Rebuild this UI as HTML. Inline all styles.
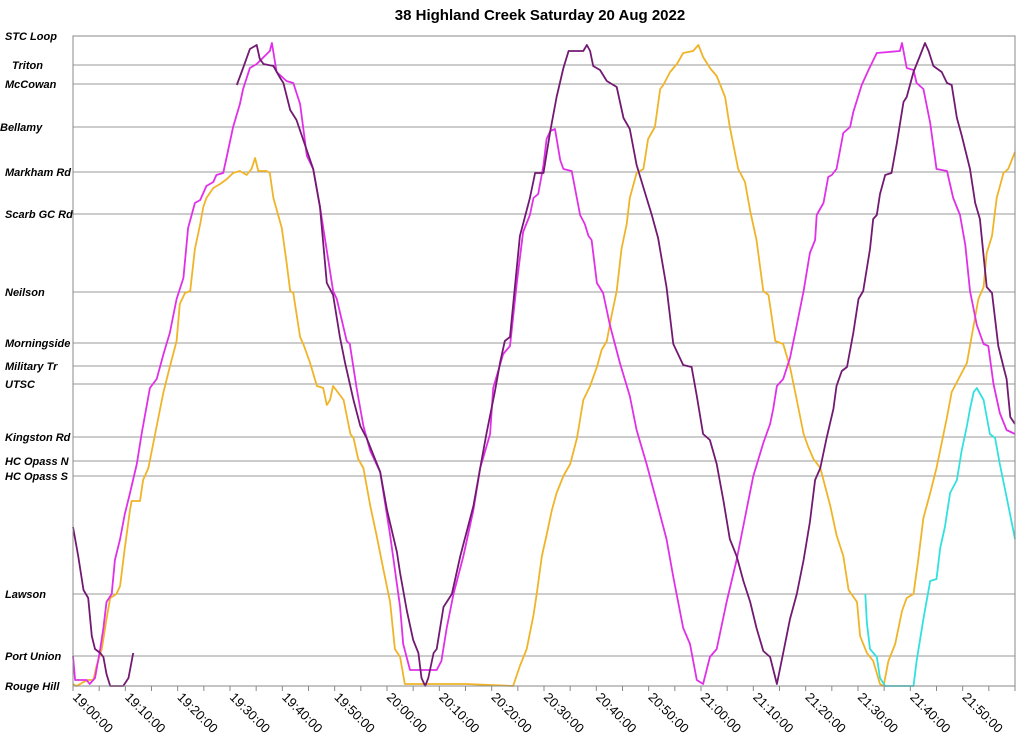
<!DOCTYPE html>
<html><head><meta charset="utf-8"><style>
body{margin:0;background:#fff;}
svg{display:block;font-family:"Liberation Sans",Arial,sans-serif;}
</style></head><body>
<svg id="chart" width="1024" height="750">
<text x="540" y="20" text-anchor="middle" font-size="15" font-weight="bold">38 Highland Creek Saturday 20 Aug 2022</text>
<g id="grid"></g><g id="xaxis"></g><g id="series"></g>
<rect x="73" y="36" width="942" height="650" fill="none" stroke="#888" stroke-width="1"/>
</svg>
<script>
const stations=["STC Loop","Triton","McCowan","Bellamy","Markham Rd","Scarb GC Rd","Neilson","Morningside","Military Tr","UTSC","Kingston Rd","HC Opass N","HC Opass S","Lawson","Port Union","Rouge Hill"];
const stationDist=[650,621,602,559,514,472,394,343,320,302,249,225,210,92,30,0];
const stationLabelX=[5,12,5,0,5,5,5,5,5,5,5,5,5,5,5,5];
const tickLabels=["19:00:00","19:10:00","19:20:00","19:30:00","19:40:00","19:50:00","20:00:00","20:10:00","20:20:00","20:30:00","20:40:00","20:50:00","21:00:00","21:10:00","21:20:00","21:30:00","21:40:00","21:50:00"];
const purpleAT=[0,1,2,2.9,3.6,4.2,5.2,5.8,6.4,7.1,9.6,10.6,11.5];
const purpleAD=[159,130,96,88,50,37,33,29,12,0,0,8,33];
const purpleBT=[31.3,32.5,33.8,35.1,35.7,36.4,38.3,39.6,40.2,41.5,42.7,45.9,47.2,48.5,49.7,51.0,52.0,53.6,54.9,56.1,58.7,60.0,61.9,62.5,63.8,65.0,66.0,66.6,67.3,67.9,68.9,69.5,70.8,72.4,74.0,76.5,77.8,79.0,80.6,81.6,82.5,83.5,85.4,87.3,88.3,89.9,91.2,92.4,93.7,94.7,97.5,98.2,98.8,99.4,100.7,102.0,103.9,105.2,106.4,107.7,109.6,110.6,111.8,113.4,114.7,116.6,118.2,119.2,120.4,121.7,123.0,124.3,125.5,126.8,128.1,129.4,130.6,131.9,133.2,134.5,135.7,137.0,138.3,139.6,140.8,141.8,142.8,144.0,145.3,145.9,146.9,147.9,149.1,150.1,151.0,152.3,152.9,153.6,154.2,155.2,156.4,157.4,158.7,159.3,160.6,161.9,162.8,163.5,164.4,166.0,167.0,167.9,168.9,169.8,171.4,172.4,173.3,174.6,175.6,176.8,177.8,178.4,179.1,180];
const purpleBD=[601,618,637,641,627,622,620,608,603,576,566,517,479,403,391,349,323,286,260,248,214,176,134,113,75,46,33,8,0,8,33,37,79,92,130,180,218,252,294,323,345,349,450,488,513,513,555,589,618,635,635,641,635,620,616,605,599,568,557,521,488,471,448,399,342,321,319,290,252,246,222,185,147,130,105,84,58,35,29,2,33,67,92,126,164,206,218,248,277,300,315,319,353,387,395,437,467,471,492,511,513,542,584,589,614,631,643,635,620,614,603,601,568,551,517,483,467,399,393,340,319,307,269,262];
const magentaT=[0,0.4,2.6,3.2,4.2,5.2,5.8,6.4,7.4,8.0,9.0,9.9,10.9,12.2,13.1,14.7,16.0,17.3,18.5,19.8,21.1,22.0,23.3,24.3,25.5,26.8,27.4,28.7,29.4,30.6,31.9,32.5,33.8,35.1,37.6,38.0,38.9,40.8,42.1,43.4,44.7,45.9,47.2,49.7,50.4,52.3,52.9,54.2,55.5,56.8,58.7,60.6,62.5,63.1,64.4,67.6,69.5,70.4,71.4,72.7,74.6,76.5,77.8,79.7,80.3,82.2,83.5,84.8,86.0,87.3,88.0,88.9,89.9,90.5,91.2,92.1,93.1,93.7,95.3,96.9,97.8,98.5,99.1,100.1,101.3,102.6,104.5,106.4,107.7,109.6,111.5,113.4,114.7,116.6,117.9,119.2,120.4,121.7,123.0,124.9,126.8,128.7,130.0,131.9,133.2,133.8,134.5,135.7,137.0,138.3,139.6,140.8,141.8,142.1,143.4,144.3,145.0,145.9,147.2,148.5,149.1,150.7,152.0,153.6,158.0,158.4,159.3,160.6,161.2,162.5,163.8,165.0,167.0,168.2,169.5,170.5,171.4,172.7,174.0,174.9,175.9,177.1,178.4,180];
const magentaD=[30,6,6,2,8,37,58,84,92,126,147,172,193,222,252,298,307,332,353,387,408,458,483,486,500,504,511,513,530,559,582,597,618,622,635,643,614,605,603,582,530,517,479,395,387,345,342,298,260,235,214,151,79,42,16,16,16,25,58,92,130,176,218,252,298,332,340,403,454,471,488,492,521,547,555,557,526,517,515,471,462,450,446,403,393,361,323,290,256,222,185,147,109,58,42,6,2,29,37,84,126,176,210,243,262,277,300,307,328,361,395,433,446,471,483,509,511,517,553,559,574,601,616,633,635,643,618,616,603,597,563,517,515,488,471,441,395,361,342,340,302,273,256,252];
const orangeT=[0,0.7,2.0,2.9,3.9,4.5,5.5,6.4,7.1,8.3,9.0,9.9,10.9,11.2,12.8,13.4,14.4,16.0,17.3,18.5,19.8,20.4,21.4,22.4,23.3,24.3,24.9,25.5,26.8,28.1,29.4,30.6,31.9,33.2,34.1,34.8,35.4,37.0,37.6,38.3,39.9,40.8,41.5,42.1,43.4,44.0,45.3,46.6,47.8,48.5,49.1,49.7,51.7,53.0,53.6,54.5,55.5,56.8,58.0,59.3,60.6,61.5,62.5,63.4,68.9,75.2,84.1,85.4,86.7,88.0,88.6,89.6,90.5,91.5,92.4,93.7,95.0,96.3,97.5,98.8,100.1,101.0,102.0,102.9,103.9,104.8,105.8,106.4,107.7,109.0,109.9,111.2,112.2,112.8,114.1,115.4,116.6,118.5,119.5,120.4,121.7,123.0,124.6,125.5,127.1,128.4,129.4,130.6,131.9,132.9,134.2,135.7,137.0,138.3,139.6,140.5,141.5,142.8,144.7,145.9,147.2,148.2,149.8,150.4,151.7,152.9,154.2,154.9,155.8,157.1,158.4,159.3,160.6,161.5,162.5,163.8,165.0,166.0,167.0,167.9,169.2,170.8,172.1,173.0,174.0,174.6,175.6,176.5,177.8,178.7,180];
const orangeD=[2,0,4,6,6,20,37,67,88,92,100,138,176,185,185,206,218,260,294,319,345,382,393,395,437,462,479,488,498,502,507,513,515,511,517,528,515,515,513,488,458,424,395,393,349,342,323,300,298,281,286,300,286,252,248,227,218,180,151,117,84,37,29,2,2,2,0,20,37,71,92,130,151,176,193,210,222,248,286,300,319,336,345,370,395,437,462,488,513,517,547,559,597,601,614,622,633,635,641,629,618,610,589,559,517,504,475,446,395,391,345,342,319,286,252,239,227,218,180,151,130,96,84,50,33,25,2,0,25,42,75,88,92,126,168,193,218,243,269,294,307,323,361,387,399,433,450,488,513,517,534];
const cyanT=[151.4,151.7,152.3,153.6,154.2,155.2,160.6,161.2,162.5,163.8,165.0,165.7,166.6,167.6,168.9,169.8,170.8,171.4,172.1,172.7,174.0,175.2,176.2,177.1,178.4,180];
const cyanD=[92,63,37,29,8,0,0,25,67,105,107,138,159,193,206,235,260,277,294,298,286,252,248,222,189,147];

const X0=73,X1=1015,YB=686;
function xScale(t){return X0+(X1-X0)*t/180;}
function yScale(d){return YB-d;}
const NS='http://www.w3.org/2000/svg';
const grid=document.getElementById('grid');
stationDist.forEach((d,i)=>{
  const y=yScale(d);
  if(d>0&&d<650){
    const l=document.createElementNS(NS,'line');
    l.setAttribute('x1',X0);l.setAttribute('x2',X1);l.setAttribute('y1',y);l.setAttribute('y2',y);
    l.setAttribute('stroke','#999');l.setAttribute('stroke-width','1');
    
    
    grid.appendChild(l);
  }
  const t=document.createElementNS(NS,'text');
  t.setAttribute('x',stationLabelX[i]);t.setAttribute('y',y+4);
  t.setAttribute('font-size','11');t.setAttribute('font-weight','bold');t.setAttribute('font-style','italic');
  t.textContent=stations[i];
  
  
  grid.appendChild(t);
});
const xa=document.getElementById('xaxis');
for(let k=0;k<=36;k++){
  const x=xScale(k*5);
  const l=document.createElementNS(NS,'line');
  l.setAttribute('x1',x);l.setAttribute('x2',x);l.setAttribute('y1',YB);l.setAttribute('y2',YB+5);
  l.setAttribute('stroke','#888');
  
  
  xa.appendChild(l);
}
tickLabels.forEach((s,i)=>{
  const x=xScale(i*10);
  const t=document.createElementNS(NS,'text');
  t.setAttribute('transform','translate('+(x-1)+','+(YB+12)+') rotate(45)');
  t.setAttribute('font-size','13');
  t.textContent=s;
  
  
  xa.appendChild(t);
});
const sg=document.getElementById('series');
function drawLine(T,D,color,name){
  const p=document.createElementNS(NS,'polyline');
  p.setAttribute('points',T.map((t,i)=>xScale(t).toFixed(1)+','+yScale(D[i]).toFixed(1)).join(' '));
  p.setAttribute('fill','none');p.setAttribute('stroke',color);p.setAttribute('stroke-width','1.8');
  p.setAttribute('stroke-linejoin','round');
  
  
  sg.appendChild(p);
}
drawLine(orangeT,orangeD,'#f0b429','series-orange');
drawLine(magentaT,magentaD,'#e030e8','series-magenta');
drawLine(purpleAT,purpleAD,'#721a72','series-purple-trip-1');
drawLine(purpleBT,purpleBD,'#721a72','series-purple-trip-2');
drawLine(cyanT,cyanD,'#33e0e0','series-cyan');
</script>
</body></html>
